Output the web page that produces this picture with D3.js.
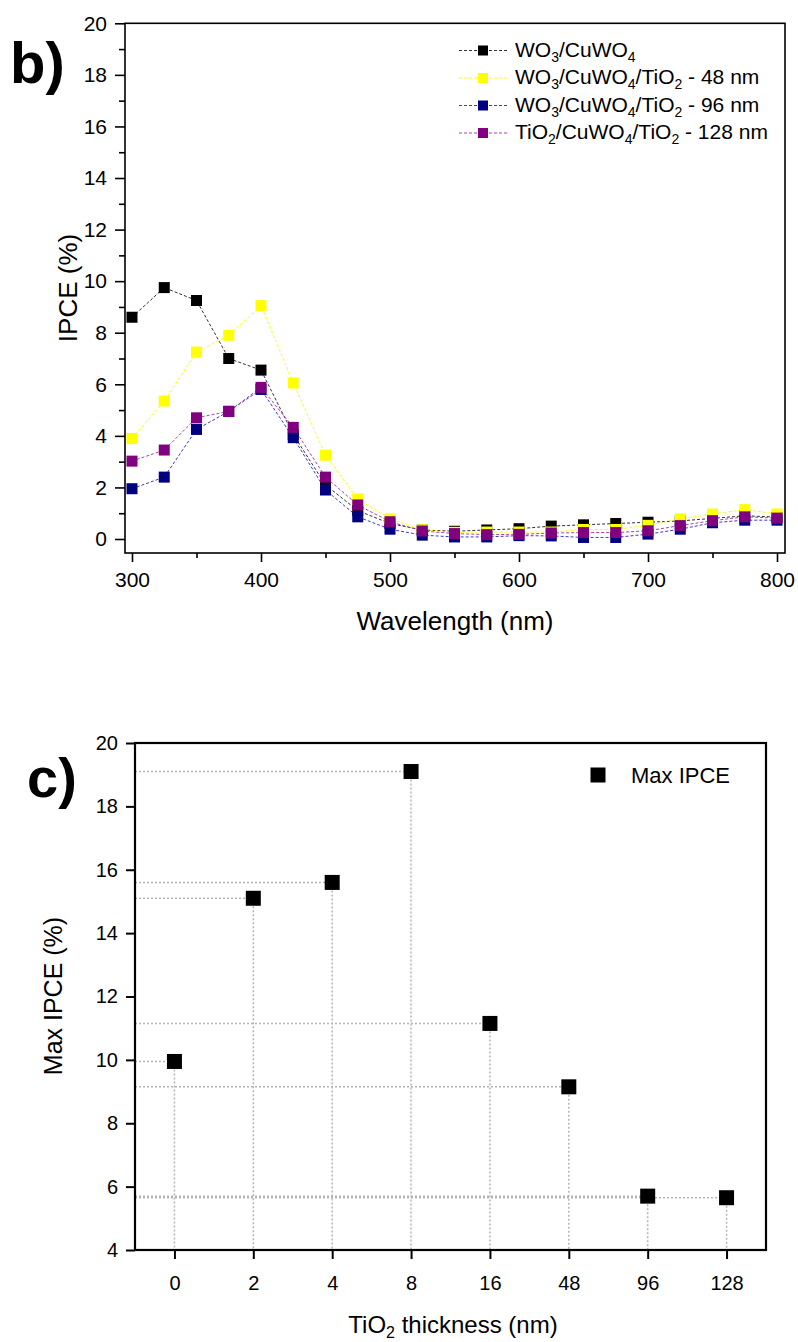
<!DOCTYPE html>
<html><head><meta charset="utf-8">
<script src="https://cdn.jsdelivr.net/npm/d3@7"></script>
<style>
html,body{margin:0;padding:0;background:#fff;}
svg{display:block;font-family:Arial,"Liberation Sans",sans-serif;}
</style></head>
<body>
<svg id="chart" width="798" height="1342"></svg>
<script>
// ---------- Data: panel b (IPCE spectra) ----------
const wavelengths = [300,325,350,375,400,425,450,475,500,525,550,575,600,625,650,675,700,725,750,775,800];
const seriesNames = ["WO_3/CuWO_4","WO_3/CuWO_4/TiO_2 - 48 nm","WO_3/CuWO_4/TiO_2 - 96 nm","TiO_2/CuWO_4/TiO_2 - 128 nm"];
const seriesColors = ["#000000","#ffff00","#000080","#800080"];
const lineColors = ["#333333","#ffff00","#3a3acc","#b040b0"];
const ipceWO3CuWO4 = [8.6,9.75,9.25,7.0,6.55,4.05,2.1,1.1,0.6,0.35,0.3,0.35,0.4,0.5,0.55,0.6,0.65,0.7,0.8,0.9,0.85];
const ipce48 = [3.9,5.35,7.25,7.9,9.05,6.05,3.25,1.55,0.78,0.36,0.26,0.27,0.27,0.27,0.37,0.37,0.53,0.78,0.97,1.14,0.97];
const ipce96 = [1.95,2.4,4.25,4.95,5.8,3.93,1.9,0.86,0.38,0.15,0.08,0.08,0.13,0.12,0.06,0.06,0.19,0.38,0.63,0.73,0.73];
const ipce128 = [3.02,3.45,4.7,4.95,5.88,4.33,2.4,1.32,0.67,0.31,0.21,0.17,0.18,0.23,0.25,0.25,0.32,0.52,0.71,0.86,0.81];
const xTicksB = [300,400,500,600,700,800];
const xMinorB = [350,450,550,650,750];
const yTicksB = [0,2,4,6,8,10,12,14,16,18,20];
const yMinorB = [1,3,5,7,9,11,13,15,17,19];

// ---------- Data: panel c (Max IPCE) ----------
const thickness = ["0","2","4","8","16","48","96","128"];
const maxIPCE = [9.95,15.1,15.6,19.1,11.15,9.15,5.7,5.65];
const yTicksC = [4,6,8,10,12,14,16,18,20];

const svg = d3.select("#chart");
const FONT = 'Arial,"Liberation Sans",sans-serif';

function richText(sel, str, baseSize, subSize){
  // "_d" marks a subscript digit
  const parts = str.split(/(_\d)/).filter(s=>s.length);
  let prevSub = false;
  parts.forEach(p=>{
    if(p[0]==="_"){
      sel.append("tspan").attr("font-size",subSize).attr("dy",5).text(p[1]);
      prevSub = true;
    } else {
      const t = sel.append("tspan").attr("font-size",baseSize).text(p);
      if(prevSub) t.attr("dy",-5);
      prevSub = false;
    }
  });
}

// ================= Panel b =================
const bL=125, bR=785, bT=23.3, bB=553;
const xB = d3.scaleLinear().domain([300,800]).range([132,777]);
const yB = d3.scaleLinear().domain([0,20]).range([539,23.3]);
const gB = svg.append("g");

gB.append("rect").attr("x",bL).attr("y",bT).attr("width",bR-bL).attr("height",bB-bT)
  .attr("fill","none").attr("stroke","#000").attr("stroke-width",1.6);

const axXB = gB.append("g").attr("transform",`translate(0,${bB})`)
  .call(d3.axisBottom(xB).tickValues(xTicksB).tickSize(9).tickPadding(10).tickFormat(d3.format("d")));
const axXBm = gB.append("g").attr("transform",`translate(0,${bB})`)
  .call(d3.axisBottom(xB).tickValues(xMinorB).tickSize(5).tickFormat(""));
const axYB = gB.append("g").attr("transform",`translate(${bL},0)`)
  .call(d3.axisLeft(yB).tickValues(yTicksB).tickSize(10).tickPadding(8).tickFormat(d3.format("d")));
const axYBm = gB.append("g").attr("transform",`translate(${bL},0)`)
  .call(d3.axisLeft(yB).tickValues(yMinorB).tickSize(6).tickFormat(""));
[axXB,axXBm,axYB,axYBm].forEach(a=>{
  a.select(".domain").remove();
  a.selectAll("line").attr("stroke","#000").attr("stroke-width",1.6);
  a.selectAll("text").attr("font-size",21).attr("font-family",FONT).attr("fill","#000");
});

const allSeries = [ipceWO3CuWO4, ipce48, ipce96, ipce128];
const line = d3.line().x((d,i)=>xB(wavelengths[i])).y(d=>yB(d));
allSeries.forEach((vals,si)=>{
  gB.append("path").datum(vals).attr("d",line).attr("fill","none")
    .attr("stroke",lineColors[si]).attr("stroke-width",1).attr("stroke-dasharray","3,2");
});
const ms = 11;
allSeries.forEach((vals,si)=>{
  gB.append("g").selectAll("rect").data(vals).join("rect")
    .attr("x",(d,i)=>xB(wavelengths[i])-ms/2).attr("y",d=>yB(d)-ms/2)
    .attr("width",ms).attr("height",ms).attr("fill",seriesColors[si]);
});

gB.append("text").attr("x",455).attr("y",630).attr("text-anchor","middle")
  .attr("font-size",26).attr("font-family",FONT).text("Wavelength (nm)");
gB.append("text").attr("transform","translate(77,288) rotate(-90)").attr("text-anchor","middle")
  .attr("font-size",26).attr("font-family",FONT).text("IPCE (%)");

// legend
const legY0 = 50.5, legDy = 27.5;
seriesNames.forEach((nm,i)=>{
  const cy = legY0 + i*legDy;
  gB.append("line").attr("x1",459).attr("x2",508).attr("y1",cy).attr("y2",cy)
    .attr("stroke",lineColors[i]).attr("stroke-width",1).attr("stroke-dasharray","3,2");
  gB.append("rect").attr("x",483-5).attr("y",cy-5).attr("width",10).attr("height",10).attr("fill",seriesColors[i]);
  const t = gB.append("text").attr("x",515).attr("y",cy+6).attr("font-family",FONT).attr("font-size",21);
  richText(t, nm, 21, 14);
});

svg.append("text").attr("x",10).attr("y",83).attr("font-size",58).attr("font-weight","bold")
  .attr("font-family",FONT).text("b)");

// ================= Panel c =================
const cL=135, cR=766, cT=743, cB=1250;
const xC = d3.scalePoint().domain(thickness).range([cL,cR]).padding(0.5);
const yC = d3.scaleLinear().domain([4,20]).range([cB,cT]);
const gC = svg.append("g");

thickness.forEach((t,i)=>{
  const px = xC(t), py = yC(maxIPCE[i]);
  gC.append("line").attr("x1",cL).attr("x2",px).attr("y1",py).attr("y2",py)
    .attr("stroke","#b4b4b4").attr("stroke-width",1.5).attr("stroke-dasharray","2,2");
  gC.append("line").attr("x1",px).attr("x2",px).attr("y1",py).attr("y2",cB)
    .attr("stroke","#b4b4b4").attr("stroke-width",1.5).attr("stroke-dasharray","2,2");
});

gC.append("rect").attr("x",cL).attr("y",cT).attr("width",cR-cL).attr("height",cB-cT)
  .attr("fill","none").attr("stroke","#000").attr("stroke-width",2.2);

const axXC = gC.append("g").attr("transform",`translate(0,${cB})`)
  .call(d3.axisBottom(xC).tickSize(9).tickPadding(17));
const axYC = gC.append("g").attr("transform",`translate(${cL},0)`)
  .call(d3.axisLeft(yC).tickValues(yTicksC).tickSize(9).tickPadding(8).tickFormat(d3.format("d")));
[axXC,axYC].forEach(a=>{
  a.select(".domain").remove();
  a.selectAll("line").attr("stroke","#000").attr("stroke-width",2);
  a.selectAll("text").attr("font-size",20).attr("font-family",FONT).attr("fill","#000");
});

const msc = 15;
gC.append("g").selectAll("rect").data(maxIPCE).join("rect")
  .attr("x",(d,i)=>xC(thickness[i])-msc/2).attr("y",d=>yC(d)-msc/2)
  .attr("width",msc).attr("height",msc).attr("fill","#000");

gC.append("rect").attr("x",598-7.5).attr("y",775-7.5).attr("width",15).attr("height",15).attr("fill","#000");
gC.append("text").attr("x",631).attr("y",783).attr("font-size",22).attr("font-family",FONT).text("Max IPCE");

const tt = gC.append("text").attr("x",453).attr("y",1333).attr("text-anchor","middle")
  .attr("font-family",FONT).attr("font-size",24);
richText(tt, "TiO_2 thickness (nm)", 24, 16);
gC.append("text").attr("transform","translate(62,996) rotate(-90)").attr("text-anchor","middle")
  .attr("font-size",25).attr("font-family",FONT).text("Max IPCE (%)");

svg.append("text").attr("x",27).attr("y",797).attr("font-size",56).attr("font-weight","bold")
  .attr("font-family",FONT).text("c)");
</script>
</body></html>
